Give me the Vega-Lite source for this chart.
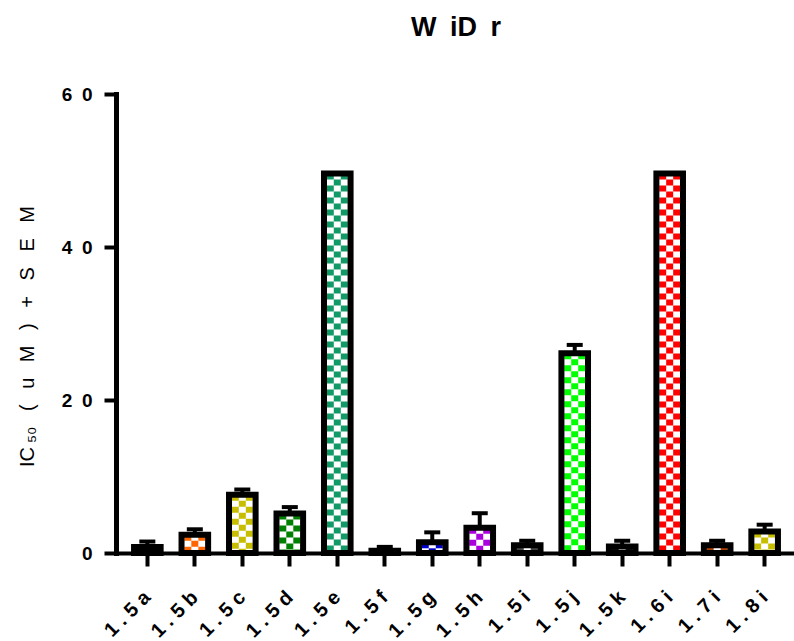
{
  "$schema": "https://vega.github.io/schema/vega-lite/v6.json",
  "autosize": {"type": "none"},
  "padding": {"left": 116, "top": 94, "right": 0, "bottom": 88},
  "width": 680,
  "height": 459,
  "background": "white",
  "title": {
    "text": "W\u2002iD\u2002r",
    "font": "Liberation Sans",
    "fontSize": 27,
    "fontWeight": "bold",
    "color": "black",
    "anchor": "middle",
    "offset": 43
  },
  "config": {
    "view": {"stroke": null},
    "axisY": {
      "labelExpr": "join(split(datum.label, ''), '\u2002')",
      "labelFont": "Liberation Sans",
      "labelFontSize": 19,
      "labelFontWeight": "bold",
      "labelColor": "black",
      "labelPadding": 12,
      "tickSize": 12,
      "tickWidth": 4,
      "tickColor": "black",
      "domainColor": "black",
      "domainWidth": 5,
      "domainCap": "square",
      "grid": false,
      "titleFont": "Liberation Sans",
      "titleFontSize": 20,
      "titleFontWeight": "normal",
      "titleColor": "black",
      "titleAngle": -90,
      "titleAlign": "center",
      "titleBaseline": "bottom",
      "titleX": -79,
      "titleY": 242
    }
  },
  "data": {
    "values": [
      {"compound": "1.5a", "ic50": 0.8, "ic50_plus_sem": 1.5},
      {"compound": "1.5b", "ic50": 2.4, "ic50_plus_sem": 3.1},
      {"compound": "1.5c", "ic50": 7.6, "ic50_plus_sem": 8.3},
      {"compound": "1.5d", "ic50": 5.15, "ic50_plus_sem": 6.0},
      {"compound": "1.5e", "ic50": 49.6, "ic50_plus_sem": 49.6},
      {"compound": "1.5f", "ic50": 0.3, "ic50_plus_sem": 0.8},
      {"compound": "1.5g", "ic50": 1.4, "ic50_plus_sem": 2.7},
      {"compound": "1.5h", "ic50": 3.3, "ic50_plus_sem": 5.2},
      {"compound": "1.5i", "ic50": 1.0, "ic50_plus_sem": 1.6},
      {"compound": "1.5j", "ic50": 26.1, "ic50_plus_sem": 27.2},
      {"compound": "1.5k", "ic50": 0.85, "ic50_plus_sem": 1.6},
      {"compound": "1.6i", "ic50": 49.6, "ic50_plus_sem": 49.6},
      {"compound": "1.7i", "ic50": 1.0, "ic50_plus_sem": 1.6},
      {"compound": "1.8i", "ic50": 2.8, "ic50_plus_sem": 3.7}
    ]
  },
  "encoding": {
    "x": {
      "field": "compound",
      "type": "nominal",
      "sort": null,
      "scale": {"paddingInner": 0.44, "paddingOuter": 0.38},
      "axis": {
        "title": null,
        "labelAngle": -45,
        "labelAlign": "right",
        "labelBaseline": "middle",
        "labelFont": "Liberation Sans",
        "labelFontSize": 20,
        "labelFontWeight": "bold",
        "labelColor": "black",
        "labelPadding": 28,
        "labelExpr": "join(split(datum.label, ''), ' ')",
        "tickSize": 13,
        "tickWidth": 4,
        "tickColor": "black",
        "domainColor": "black",
        "domainWidth": 4,
        "domainCap": "square",
        "grid": false
      }
    },
    "y": {
      "field": "ic50",
      "type": "quantitative",
      "title": "IC\u2009₅₀\u2002 (\u2002 u\u2002 M\u2002 )\u2002 +\u2002 S\u2002 E\u2002 M",
      "scale": {"domain": [0, 60]},
      "axis": {"values": [0, 20, 40, 60]}
    }
  },
  "layer": [
    {
      "mark": {"type": "bar", "fill": "white", "strokeWidth": 0}
    },
    {
      "mark": {"type": "rule", "strokeWidth": 7, "strokeDash": [6, 6], "strokeDashOffset": 0, "xOffset": -7},
      "encoding": {
        "y2": {"datum": 0},
        "stroke": {
          "field": "compound",
          "type": "nominal",
          "legend": null,
          "scale": {
            "domain": ["1.5a", "1.5b", "1.5c", "1.5d", "1.5e", "1.5f", "1.5g", "1.5h", "1.5i", "1.5j", "1.5k", "1.6i", "1.7i", "1.8i"],
            "range": ["#000000", "#FF6600", "#C8BE00", "#008000", "#109A68", "#000000", "#0000CC", "#AA00DD", "#444444", "#00FF00", "#111111", "#FF0000", "#B04000", "#C8BE00"]
          }
        }
      }
    },
    {
      "mark": {"type": "rule", "strokeWidth": 7, "strokeDash": [6, 6], "strokeDashOffset": 6, "xOffset": 0},
      "encoding": {
        "y2": {"datum": 0},
        "stroke": {"field": "compound", "type": "nominal", "legend": null}
      }
    },
    {
      "mark": {"type": "rule", "strokeWidth": 7, "strokeDash": [6, 6], "strokeDashOffset": 0, "xOffset": 7},
      "encoding": {
        "y2": {"datum": 0},
        "stroke": {"field": "compound", "type": "nominal", "legend": null}
      }
    },
    {
      "mark": {"type": "bar", "fill": "white", "fillOpacity": 0, "stroke": "black", "strokeWidth": 6}
    },
    {
      "mark": {"type": "rule", "strokeWidth": 4, "color": "black"},
      "encoding": {
        "y2": {"field": "ic50_plus_sem"}
      }
    },
    {
      "mark": {"type": "tick", "size": 16, "thickness": 4, "color": "black", "opacity": 1},
      "encoding": {
        "y": {"field": "ic50_plus_sem", "type": "quantitative", "title": "IC\u2009₅₀\u2002 (\u2002 u\u2002 M\u2002 )\u2002 +\u2002 S\u2002 E\u2002 M", "axis": {"values": [0, 20, 40, 60]}}
      }
    }
  ]
}
